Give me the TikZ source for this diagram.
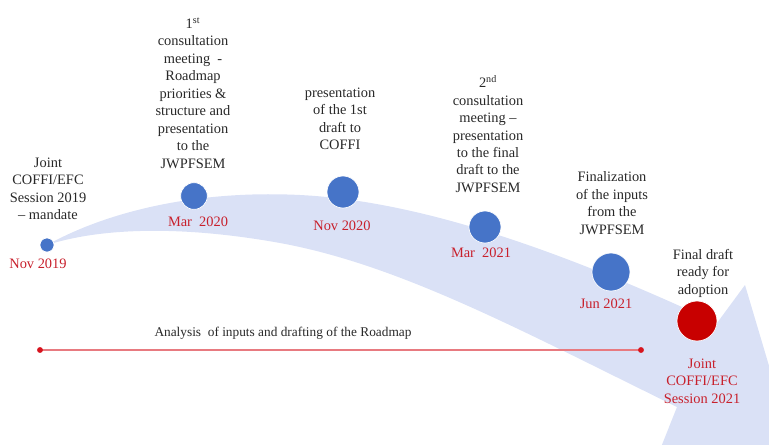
\documentclass[tikz,border=0pt]{standalone}
\usepackage{fontspec}
\setmainfont{Liberation Serif}
\definecolor{band}{RGB}{218,225,246}
\definecolor{dotblue}{RGB}{70,116,200}
\definecolor{dotred}{RGB}{200,0,0}
\definecolor{labred}{RGB}{200,32,44}
\definecolor{txt}{RGB}{40,40,40}
\definecolor{linered}{RGB}{232,122,128}
\definecolor{enddot}{RGB}{215,20,30}
\begin{document}
\begin{tikzpicture}[x=0.75pt,y=-0.75pt,
  evdot/.style={circle,fill=dotblue,draw=white,line width=0.5pt,inner sep=0pt,minimum size=#1},
  reddot/.style={circle,fill=dotred,draw=white,line width=0.5pt,inner sep=0pt,minimum size=#1},
  desc/.style={align=center,inner sep=0pt,text=txt,font=\fontsize{10.8}{13.1}\selectfont},
  datelab/.style={align=center,inner sep=0pt,text=labred,font=\fontsize{10.8}{13.1}\selectfont},
  antext/.style={inner sep=0pt,text=txt,font=\fontsize{10}{12}\selectfont}]
\useasboundingbox (0,0) rectangle (769,444);
% curved arrow band
\begin{scope}
\clip (0,0) rectangle (769,444);
\fill[band] (47,245) .. controls (110,210) and (200,190) .. (300,195)
  .. controls (420,201) and (560,250) .. (717,323) -- (745,285) -- (800,470)
  -- (640,500) -- (677,407) .. controls (520,330) and (400,265) .. (280,243)
  .. controls (180,225) and (100,228) .. (47,245) -- cycle;
\end{scope}
% analysis line
\coordinate (as) at (40,350);
\coordinate (ae) at (641,350);
\draw[linered,line width=2pt] (as) -- (ae);
\fill[enddot] (as) circle[radius=2.2pt] (ae) circle[radius=2.2pt];
\node[antext] (an) at (283,333) {Analysis\ \ of inputs and drafting of the Roadmap};
% events
\node[evdot=10.5pt] (e1) at (47,245) {};
\node[datelab] (d1) at (38,264) {Nov 2019};
\node[desc] (t1) at (48,189) {Joint\\COFFI/EFC\\Session 2019\\– mandate};

\node[evdot=20pt] (e2) at (194,196) {};
\node[datelab] (d2) at (198,222) {Mar\ \ 2020};
\node[desc] (t2) at (193,93) {1\textsuperscript{st}\\consultation\\meeting\ \ -\\Roadmap\\priorities \&\\structure and\\presentation\\to the\\JWPFSEM};

\node[evdot=24pt] (e3) at (343,192) {};
\node[datelab] (d3) at (342,226) {Nov 2020};
\node[desc] (t3) at (340,119) {presentation\\of the 1st\\draft to\\COFFI};

\node[evdot=24pt] (e4) at (485,227) {};
\node[datelab] (d4) at (481,253) {Mar\ \ 2021};
\node[desc] (t4) at (488,134) {2\textsuperscript{nd}\\consultation\\meeting –\\presentation\\to the final\\draft to the\\JWPFSEM};

\node[evdot=28.5pt] (e5) at (611,272) {};
\node[datelab] (d5) at (606,304) {Jun 2021};
\node[desc] (t5) at (612,203) {Finalization\\of the inputs\\from the\\JWPFSEM};

\node[reddot=30pt] (e6) at (697,321) {};
\node[datelab] (d6) at (702,381) {Joint\\COFFI/EFC\\Session 2021};
\node[desc] (t6) at (703,273) {Final draft\\ready for\\adoption};
\end{tikzpicture}
\end{document}
